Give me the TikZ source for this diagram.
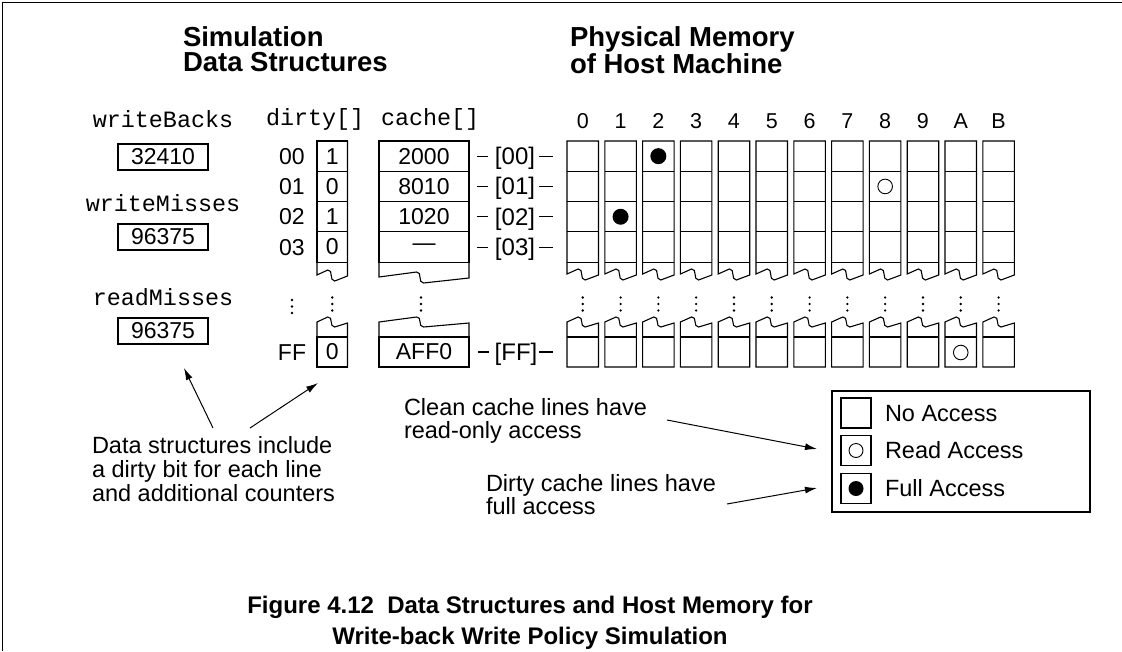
\documentclass[tikz,border=0pt]{standalone}
\usepackage{fontspec}
\setmainfont{Liberation Sans}
\setmonofont{Liberation Mono}
\usetikzlibrary{arrows.meta}

\newcommand\upperpiece[4]{% x, width, top, wave y
  \draw[boxl] (#1,#4) -- (#1,#3) -- ({#1+#2},#3) -- ({#1+#2},{#4+1})
    -- ({#1+0.45*#2+4},{#4+6}) .. controls ({#1+0.45*#2-2},{#4+6}) and ({#1+0.45*#2+3},{#4-5.5}) .. ({#1+0.45*#2-3},{#4-5}) -- cycle;}
\newcommand\lowerpiece[4]{% x, width, wave y, bottom
  \draw[boxl] (#1,#3) -- ({#1+0.45*#2-3},{#3-5}) .. controls ({#1+0.45*#2+3},{#3-5.5}) and ({#1+0.45*#2-2},{#3+5}) .. ({#1+0.45*#2+4},{#3+5}) -- ({#1+#2},{#3+1}) -- ({#1+#2},#4) -- (#1,#4) -- cycle;}
\newcommand\vdotsat[2]{%
  \fill (#1,{#2}) circle[radius=1.3pt] (#1,{#2+6.5}) circle[radius=1.3pt] (#1,{#2+13}) circle[radius=1.3pt];}

\begin{document}
\begin{tikzpicture}[x=1pt,y=-1pt,
  every node/.style={inner sep=0pt, outer sep=0pt},
  txt/.style={font=\fontsize{23}{27}\selectfont},
  idxtxt/.style={font=\fontsize{24}{27}\selectfont, anchor=base},
  notetxt/.style={font=\fontsize{23.5}{23.5}\selectfont, align=left, anchor=north west},
  mono/.style={font=\ttfamily\fontsize{23.4}{27}\selectfont},
  headtxt/.style={font=\bfseries\fontsize{27.5}{25}\selectfont, align=left, anchor=north west},
  captxt/.style={font=\bfseries\fontsize{24}{31}\selectfont, align=center, anchor=north},
  coltxt/.style={font=\fontsize{21.5}{25}\selectfont, anchor=base},
  boxl/.style={line width=1.1pt},
  cellbox/.style={draw, line width=1.1pt, minimum height=30.3pt},
  ctrbox/.style={draw, line width=1.1pt, minimum width=90pt, minimum height=26pt, font=\fontsize{23}{27}\selectfont},
  legsq/.style={draw, line width=1.1pt, minimum width=30pt, minimum height=30pt},
  ptr/.style={line width=1pt, -{Latex[length=12pt,width=7pt]}},
]
\useasboundingbox (0,0) rectangle (1122,651);
\draw[line width=1.5pt] (2.5,651) -- (2.5,2.5) -- (1122,2.5);

% titles
\node[headtxt] (t1) at (183,27) {Simulation\\Data Structures};
\node[headtxt] (t2) at (570,27) {Physical Memory\\of Host Machine};

% counters
\node[mono, anchor=base] (lwb) at (163,127) {writeBacks};
\node[ctrbox] (cwb) at (163,157) {32410};
\node[mono, anchor=base] (lwm) at (163,211) {writeMisses};
\node[ctrbox] (cwm) at (163,237) {96375};
\node[mono, anchor=base] (lrm) at (163,305) {readMisses};
\node[ctrbox] (crm) at (163,331) {96375};

% array labels
\node[mono, anchor=base west] (ldirty) at (266,125) {dirty[]};
\node[mono, anchor=base west] (lcache) at (381,125) {cache[]};

% upper pieces of dirty / cache
\upperpiece{317}{30.5}{141}{275}
\upperpiece{379}{90}{141}{277}

\foreach \i/\lab/\d/\c in {0/00/1/2000, 1/01/0/8010, 2/02/1/1020, 3/03/0/—} {
  \pgfmathsetmacro\yc{156.15+30.3*\i}
  \node[txt, anchor=base] (r\i) at (292,{\yc+8.2}) {\lab};
  \node[cellbox, minimum width=30.5pt, txt] (d\i) at (332.25,\yc) {\d};
  \node[cellbox, minimum width=90pt, txt] (c\i) at (424,\yc) {\c};
  \node[idxtxt] (x\i) at (515,{\yc+8.4}) {[\lab]};
  \draw[boxl] (c\i.east) ++(8,0) -- ++(11,0);
  \draw[boxl] (x\i.east |- c\i.east) ++(4,0) -- ++(14,0);
}

% lower pieces of dirty / cache
\lowerpiece{317}{30.5}{322}{367}
\lowerpiece{379}{90}{322}{367}
\node[txt, anchor=base] (rff) at (292,360.2) {FF};
\node[cellbox, minimum width=30.5pt, minimum height=30pt, txt] (dff) at (332.25,352) {0};
\node[cellbox, minimum width=90pt, minimum height=30pt, txt] (cff) at (424,352) {AFF0};
\node[idxtxt] (xff) at (516,360.4) {[FF]};
\draw[boxl] (cff.east) ++(9,0) -- ++(11,0);
\draw[boxl] (xff.east |- cff.east) ++(2,0) -- ++(14,0);

% ellipses
\vdotsat{292}{300}
\vdotsat{332.25}{297.5}
\vdotsat{421}{297.5}

% memory grid
\foreach \k/\t in {0/0,1/1,2/2,3/3,4/4,5/5,6/6,7/7,8/8,9/9,10/A,11/B} {
  \pgfmathsetmacro\xa{567+37.8*\k}
  \pgfmathsetmacro\xc{\xa+15.75}
  \node[coltxt] (h\k) at (\xc,128.5) {\t};
  \upperpiece{\xa}{31.5}{141}{274}
  \foreach \yy in {171.3,201.6,231.9,262.2} {
    \draw[boxl] (\xa,\yy) -- ++(31.5,0);
  }
  \lowerpiece{\xa}{31.5}{322}{367}
  \draw[boxl] (\xa,337) -- ++(31.5,0);
  \vdotsat{\xc}{297.5}
}

% access marks
\fill (658.35,156.15) circle[radius=8pt];
\draw[line width=0.9pt] (885.15,186.45) circle[radius=7.3pt];
\fill (620.55,216.75) circle[radius=8pt];
\draw[line width=0.9pt] (960.75,352.5) circle[radius=7.3pt];

% legend
\node[draw, boxl, minimum width=258pt, minimum height=121pt] (legend) at (961,451.5) {};
\node[legsq] (lg0) at (856,413) {};
\node[legsq] (lg1) at (856,450.5) {};
\node[legsq] (lg2) at (856,488.5) {};
\draw[line width=0.9pt] (lg1.center) circle[radius=7pt];
\fill (lg2.center) circle[radius=7.5pt];
\node[font=\fontsize{23.5}{27}\selectfont, anchor=base west] (lt0) at (885,421.4) {No Access};
\node[font=\fontsize{23.5}{27}\selectfont, anchor=base west] (lt1) at (885,458.9) {Read Access};
\node[font=\fontsize{23.5}{27}\selectfont, anchor=base west] (lt2) at (885,496.9) {Full Access};

% notes
\node[notetxt] (nclean) at (404,398.4) {Clean cache lines have\\read-only access};
\node[notetxt] (ndirty) at (486,474.4) {Dirty cache lines have\\full access};
\node[notetxt, font=\fontsize{23.5}{24}\selectfont] (nds) at (92,436.4) {Data structures include\\a dirty bit for each line\\and additional counters};

\coordinate (a1s) at (213,428);
\coordinate (a1e) at (184,368);
\coordinate (a2s) at (250,428);
\coordinate (a2e) at (318,383);
\coordinate (a3s) at (667,420);
\coordinate (a3e) at (817,449);
\coordinate (a4s) at (727,504);
\coordinate (a4e) at (817,488);
\draw[ptr] (a1s) -- (a1e);
\draw[ptr] (a2s) -- (a2e);
\draw[ptr] (a3s) -- (a3e);
\draw[ptr] (a4s) -- (a4e);

% caption
\node[captxt] (caption) at (530,596) {Figure 4.12\ \ Data Structures and Host Memory for\\Write-back Write Policy Simulation};
\end{tikzpicture}
\end{document}
